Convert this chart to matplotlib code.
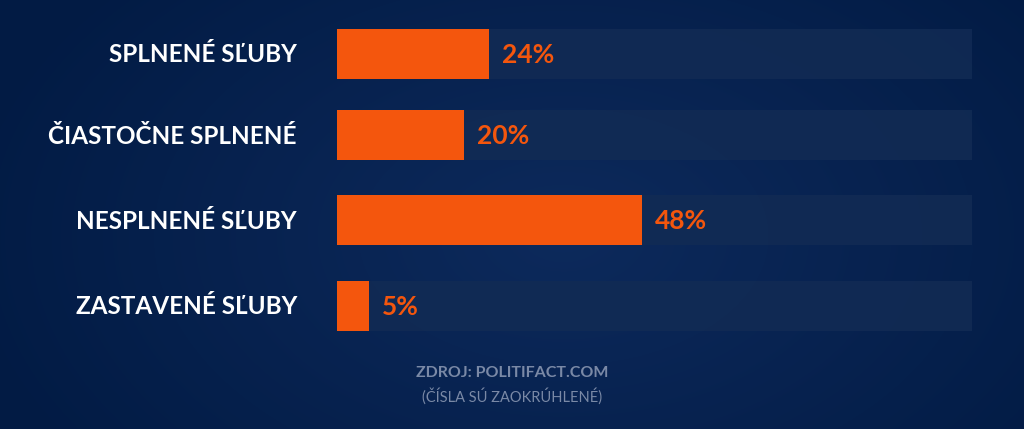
import numpy as np
import matplotlib
matplotlib.use("Agg")
import matplotlib.pyplot as plt

categories = ["SPLNENÉ SĽUBY", "ČIASTOČNE SPLNENÉ", "NESPLNENÉ SĽUBY", "ZASTAVENÉ SĽUBY"]
values = [24, 20, 48, 5]
value_labels = ["24%", "20%", "48%", "5%"]
source_lines = ["ZDROJ: POLITIFACT.COM", "(ČÍSLA SÚ ZAOKRÚHLENÉ)"]

W, H = 1024, 429
fig = plt.figure(figsize=(W / 100, H / 100), dpi=100)

# background gradient
bg = fig.add_axes([0, 0, 1, 1])
yy, xx = np.mgrid[0:H, 0:W]
d = np.sqrt(((xx - W * 0.55) / (W * 0.6)) ** 2 + ((yy - H * 0.55) / (H * 0.9)) ** 2)
d = np.clip(d, 0, 1)
c_in = np.array([0x0d, 0x2a, 0x5c]) / 255
c_out = np.array([0x02, 0x1b, 0x44]) / 255
img = c_in[None, None, :] * (1 - d[..., None]) + c_out[None, None, :] * d[..., None]
bg.imshow(img, extent=[0, W, H, 0], aspect="auto")
bg.set_xlim(0, W)
bg.set_ylim(H, 0)
bg.axis("off")

# main axes in pixel-like coordinates
x0, x1 = 337, 972
ax = fig.add_axes([x0 / W, 0, (x1 - x0) / W, 1])
ax.set_xlim(0, 100)
ax.set_ylim(H, 0)
ax.axis("off")
ax.patch.set_alpha(0)

centers = [53.7, 135, 220.3, 306]
bar_h = 50
track_color = "#122b54"
orange = "#f4560d"

ax.barh(centers, [100] * len(values), height=bar_h, color=track_color, alpha=0.85, zorder=1)
ax.barh(centers, values, height=bar_h, color=orange, zorder=2)

for c, v, lab, cat in zip(centers, values, value_labels, categories):
    ax.text(v + 2.0, c + 1, lab, color=orange, fontsize=19, fontfamily="Lato",
            fontweight="bold", va="center", ha="left", zorder=3)
    ax.text(-6.3, c + 1, cat, color="white", fontsize=17.5, fontfamily="Lato",
            fontweight="bold", va="center", ha="right", zorder=3)

fig.text(512 / W, 1 - 373 / H, source_lines[0], color="#7a89a6", fontsize=11.5,
         fontfamily="Lato", fontweight="bold", ha="center", va="center")
fig.text(512 / W, 1 - 396 / H, source_lines[1], color="#7a89a6", fontsize=10.5,
         fontfamily="Lato", ha="center", va="center")

fig.savefig("out.png", dpi=100)
